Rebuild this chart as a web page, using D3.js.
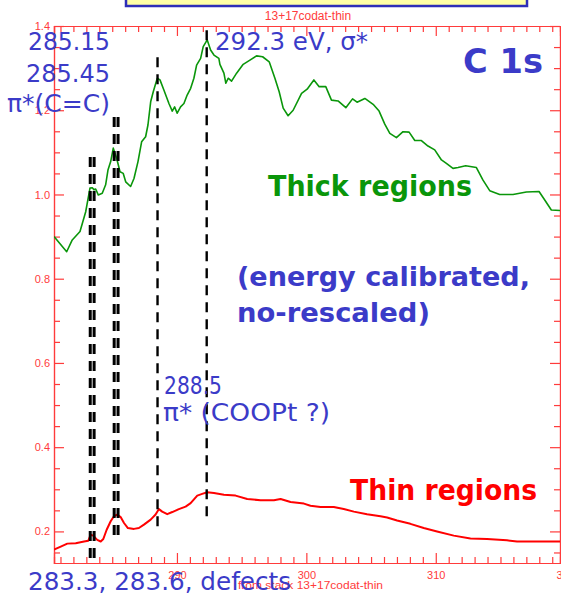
<!DOCTYPE html>
<html>
<head>
<meta charset="utf-8">
<script src="https://cdn.jsdelivr.net/npm/d3@7"></script>
<style>
  html, body { margin: 0; padding: 0; background: #ffffff; }
  svg { display: block; }
</style>
</head>
<body>
<div id="chart"></div>
<script>
// C 1s NEXAFS spectra, thick and thin regions (photon energy in eV, optical density)
const energyThick = [280.5, 281.48, 281.91, 282.51, 282.95, 283.28, 283.46, 283.59, 283.72, 283.92,
  284.23, 284.49, 284.67, 284.88, 285.08, 285.34, 285.60, 285.85, 286.04, 286.42,
  286.68, 286.99, 287.27, 287.58, 287.76, 287.97, 288.17, 288.48, 288.69, 288.99,
  289.38, 289.64, 289.82, 290.02, 290.28, 290.54, 290.79, 291.06, 291.31, 291.52,
  291.83, 292.03, 292.34, 292.60, 292.86, 293.24, 293.32, 293.63, 293.78, 293.96,
  294.22, 294.61, 295.12, 295.64, 296.15, 296.62, 297.13, 297.57, 297.90, 298.21,
  298.59, 298.98, 299.63, 300.06, 300.58, 300.99, 301.50, 301.94, 302.45, 303.05,
  303.57, 303.92, 304.52, 305.16, 305.62, 306.06, 306.45, 306.96, 307.47, 307.94,
  308.38, 308.89, 309.40, 309.92, 310.44, 310.82, 311.33, 311.72, 312.31, 313.14,
  313.65, 314.17, 314.94, 315.97, 317.00, 317.98, 318.42, 318.93, 319.6];
const valueThick = [0.900, 0.864, 0.892, 0.912, 0.959, 1.015, 1.016, 1.011, 1.013, 0.999,
  1.003, 1.023, 1.058, 1.078, 1.110, 1.086, 1.054, 1.050, 1.030, 1.019,
  1.038, 1.078, 1.125, 1.137, 1.165, 1.220, 1.244, 1.276, 1.272, 1.248,
  1.216, 1.198, 1.208, 1.193, 1.208, 1.216, 1.236, 1.252, 1.276, 1.307,
  1.323, 1.351, 1.367, 1.343, 1.331, 1.323, 1.309, 1.288, 1.264, 1.276,
  1.269, 1.288, 1.309, 1.319, 1.329, 1.327, 1.315, 1.276, 1.244, 1.205,
  1.187, 1.200, 1.240, 1.250, 1.272, 1.256, 1.256, 1.224, 1.222, 1.206,
  1.227, 1.219, 1.228, 1.214, 1.198, 1.167, 1.145, 1.135, 1.149, 1.148,
  1.128, 1.128, 1.115, 1.106, 1.082, 1.074, 1.062, 1.064, 1.068, 1.064,
  1.034, 1.009, 1.000, 1.000, 1.006, 1.007, 0.987, 0.963, 0.962];

const energyThin = [280.5, 281.02, 281.53, 282.18, 282.82, 283.15, 283.33, 283.53, 283.84, 284.11,
  284.31, 284.57, 284.88, 285.13, 285.39, 285.65, 285.91, 286.21, 286.68, 287.06,
  287.45, 287.97, 288.35, 288.61, 288.86, 289.25, 289.64, 290.15, 290.67, 291.06,
  291.57, 291.95, 292.34, 292.86, 293.63, 294.53, 295.43, 296.46, 297.49, 298.01,
  298.78, 299.81, 300.32, 301.09, 302.12, 302.89, 303.67, 304.69, 305.73, 306.24,
  307.01, 308.04, 309.07, 310.10, 311.39, 312.68, 313.96, 315.50, 316.28, 317.82, 319.6];
const valueThin = [0.157, 0.164, 0.171, 0.172, 0.176, 0.178, 0.192, 0.190, 0.180, 0.176,
  0.182, 0.204, 0.224, 0.236, 0.240, 0.234, 0.220, 0.208, 0.206, 0.208,
  0.216, 0.228, 0.240, 0.253, 0.247, 0.241, 0.246, 0.253, 0.259, 0.267,
  0.285, 0.289, 0.293, 0.291, 0.287, 0.285, 0.277, 0.274, 0.274, 0.277,
  0.270, 0.266, 0.261, 0.258, 0.258, 0.253, 0.247, 0.241, 0.236, 0.233,
  0.226, 0.218, 0.208, 0.200, 0.190, 0.183, 0.182, 0.179, 0.176, 0.176, 0.176];

// Resonance positions marked with dashed lines (eV)
const pairLow = [283.3, 283.6];      // defects
const pairCC = [285.15, 285.45];     // pi* (C=C)
const singleCOO = [288.5];           // pi* (COOPt ?)
const singleSigma = [292.3];         // sigma*

// Axis ticks
const xTickValues = [290, 300, 310, 320];
const xTickLabels = ["290", "300", "310", "320"];
const yTickValues = [0.2, 0.4, 0.6, 0.8, 1.0, 1.2, 1.4];
const yTickLabels = ["0.2", "0.4", "0.6", "0.8", "1.0", "1.2", "1.4"];

const W = 561, H = 593;
const mLeft = 54, mRight = 560, mTop = 26, mBottom = 563;
const axisRed = "#ff3b3b";
const blue = "#3b3bc8";
const green = "#0a960a";
const comic = "'Comic Sans MS', 'DejaVu Sans', sans-serif";

const x = d3.scaleLinear().domain([280.5, 319.6]).range([mLeft, mRight]);
const y = d3.scaleLinear().domain([0.125, 1.4]).range([mBottom, mTop]);

const svg = d3.select("#chart").append("svg")
  .attr("width", W).attr("height", H)
  .style("background", "#ffffff");

svg.append("defs").append("clipPath").attr("id", "plotclip")
  .append("rect").attr("x", mLeft).attr("y", mTop)
  .attr("width", mRight - mLeft).attr("height", mBottom - mTop);

// Banner box at the top edge
svg.append("rect")
  .attr("x", 126).attr("y", -6).attr("width", 401).attr("height", 12)
  .attr("fill", "#ffffa6").attr("stroke", "#2e2eb8").attr("stroke-width", 2.5);

// Title
svg.append("text")
  .attr("x", 308).attr("y", 20).attr("text-anchor", "middle")
  .attr("font-family", "'Liberation Sans', Arial, sans-serif").attr("font-size", 12)
  .attr("fill", axisRed).text("13+17codat-thin");

// Axes (ticks drawn inward on all four sides)
function styleAxis(g) {
  g.selectAll("path, line").attr("stroke", axisRed).attr("stroke-width", 1.2);
  g.selectAll("text").attr("fill", axisRed)
    .attr("font-family", "'Liberation Sans', Arial, sans-serif").attr("font-size", 11);
}
const xMinor = d3.range(281, 320, 1).filter(v => v % 10 !== 0);
const yMinor = d3.range(0.15, 1.4, 0.05).filter(v => Math.abs(v * 5 - Math.round(v * 5)) > 1e-6);

svg.append("g").attr("transform", `translate(0,${mBottom})`)
  .call(d3.axisBottom(x).tickValues(xTickValues).tickSize(-10).tickPadding(8)
    .tickFormat((d, i) => xTickLabels[i]))
  .call(styleAxis);
svg.append("g").attr("transform", `translate(0,${mBottom})`)
  .call(d3.axisBottom(x).tickValues(xMinor).tickSize(-6).tickFormat(""))
  .call(styleAxis);
svg.append("g").attr("transform", `translate(0,${mTop})`)
  .call(d3.axisTop(x).tickValues(xTickValues).tickSize(-10).tickFormat(""))
  .call(styleAxis);
svg.append("g").attr("transform", `translate(0,${mTop})`)
  .call(d3.axisTop(x).tickValues(xMinor).tickSize(-6).tickFormat(""))
  .call(styleAxis);

svg.append("g").attr("transform", `translate(${mLeft},0)`)
  .call(d3.axisLeft(y).tickValues(yTickValues).tickSize(-10).tickPadding(4)
    .tickFormat((d, i) => yTickLabels[i]))
  .call(styleAxis);
svg.append("g").attr("transform", `translate(${mLeft},0)`)
  .call(d3.axisLeft(y).tickValues(yMinor).tickSize(-6).tickFormat(""))
  .call(styleAxis);
svg.append("g").attr("transform", `translate(${mRight},0)`)
  .call(d3.axisRight(y).tickValues(yTickValues).tickSize(-10).tickFormat(""))
  .call(styleAxis);
svg.append("g").attr("transform", `translate(${mRight},0)`)
  .call(d3.axisRight(y).tickValues(yMinor).tickSize(-6).tickFormat(""))
  .call(styleAxis);

// Spectra
const line = d3.line().x(d => x(d[0])).y(d => y(d[1]));
const plot = svg.append("g").attr("clip-path", "url(#plotclip)");
plot.append("path")
  .datum(d3.zip(energyThick, valueThick))
  .attr("d", line).attr("fill", "none")
  .attr("stroke", green).attr("stroke-width", 1.6).attr("stroke-linejoin", "round");
plot.append("path")
  .datum(d3.zip(energyThin, valueThin))
  .attr("d", line).attr("fill", "none")
  .attr("stroke", "#ff0000").attr("stroke-width", 2).attr("stroke-linejoin", "round");

// Dashed resonance markers: energies with the value span each group covers
const markerGroups = [
  { energies: pairLow, from: 0.133, to: 1.089, width: 3 },
  { energies: pairCC, from: 0.178, to: 1.184, width: 3 },
  { energies: singleCOO, from: 0.209, to: 1.326, width: 2.4 },
  { energies: singleSigma, from: 0.221, to: 1.39, width: 2.4 }
];
markerGroups.forEach(g => {
  svg.selectAll(null).data(g.energies).enter().append("line")
    .attr("x1", d => x(d)).attr("x2", d => x(d))
    .attr("y1", y(g.to)).attr("y2", y(g.from))
    .attr("stroke", "#000").attr("stroke-width", g.width)
    .attr("stroke-dasharray", "10,7");
});

// Annotations
function label(txt, xx, yy, opts) {
  const t = svg.append("text").attr("x", xx).attr("y", yy)
    .attr("font-family", comic)
    .attr("font-size", opts.size)
    .attr("font-weight", opts.bold ? "bold" : "normal")
    .attr("font-style", opts.italic ? "italic" : "normal")
    .attr("fill", opts.color).text(txt);
  if (opts.len) t.attr("textLength", opts.len).attr("lengthAdjust", "spacingAndGlyphs");
  return t;
}
label("285.15", 28, 50, { size: 24, color: blue, len: 82 });
label("285.45", 26, 82, { size: 24, color: blue, len: 84 });
label("π*(C=C)", 7, 112, { size: 24, color: blue, len: 103 });
label("292.3 eV, σ*", 215, 50, { size: 24, color: blue, len: 153 });
label("C 1s", 463, 73, { size: 34, color: blue, bold: true, len: 80 });
label("Thick regions", 268, 196, { size: 28, color: green, bold: true, len: 204 });
label("(energy calibrated,", 237, 286, { size: 27, color: blue, bold: true, len: 293 });
label("no-rescaled)", 237, 322, { size: 27, color: blue, bold: true, len: 193 });
label("288.5", 164, 394, { size: 24, color: blue, len: 58 });
label("π* (COOPt ?)", 163, 421, { size: 24, color: blue, len: 167 });
label("Thin regions", 350, 500, { size: 28, color: "#ff0000", bold: true, len: 187 });

svg.append("text")
  .attr("x", 238).attr("y", 589)
  .attr("font-family", "'Liberation Sans', Arial, sans-serif").attr("font-size", 11)
  .attr("fill", axisRed).attr("textLength", 145).attr("lengthAdjust", "spacingAndGlyphs")
  .text("from stack 13+17codat-thin");
label("283.3, 283.6, defects", 28, 590, { size: 24, color: blue, len: 263 });
</script>
</body>
</html>
